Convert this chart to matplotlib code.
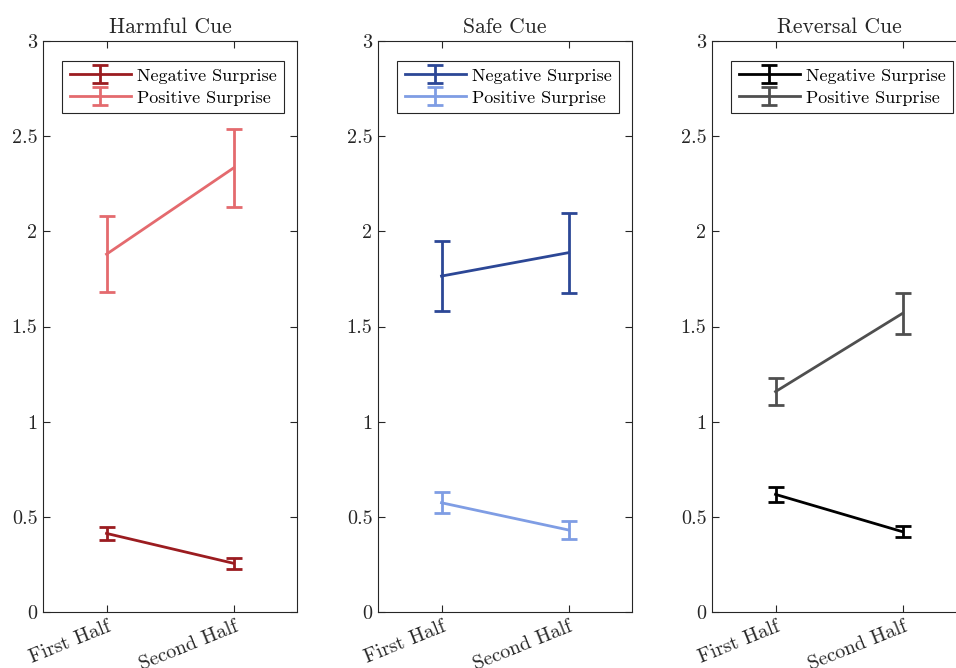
import matplotlib
import matplotlib.pyplot as plt
import numpy as np

matplotlib.use('Agg')
plt.rcParams['font.family'] = ['cmr10', 'DejaVu Serif']
plt.rcParams['mathtext.fontset'] = 'cm'
plt.rcParams['axes.formatter.use_mathtext'] = True

halves = ['First Half', 'Second Half']
titles = ['Harmful Cue', 'Safe Cue', 'Reversal Cue']
series_names = ['Negative Surprise', 'Positive Surprise']

# mean and error (half-width) for each cue, per half
harmful_neg = [0.413, 0.256]
harmful_neg_err = [0.035, 0.028]
harmful_pos = [1.880, 2.333]
harmful_pos_err = [0.200, 0.205]

safe_neg = [1.765, 1.888]
safe_neg_err = [0.185, 0.211]
safe_pos = [0.574, 0.431]
safe_pos_err = [0.056, 0.048]

reversal_neg = [0.618, 0.422]
reversal_neg_err = [0.040, 0.028]
reversal_pos = [1.158, 1.569]
reversal_pos_err = [0.072, 0.107]

colors = [('#9b1c20', '#e46a6e'), ('#2c4796', '#7f9de4'), ('#000000', '#4f4f4f')]

panels = [
    ((harmful_neg, harmful_neg_err), (harmful_pos, harmful_pos_err)),
    ((safe_neg, safe_neg_err), (safe_pos, safe_pos_err)),
    ((reversal_neg, reversal_neg_err), (reversal_pos, reversal_pos_err)),
]

fig = plt.figure(figsize=(9.56, 6.68), dpi=100)
lefts = [0.045, 0.3954, 0.7448]
x = np.arange(1, len(halves) + 1)

for k in range(3):
    ax = fig.add_axes([lefts[k], 0.0838, 0.2657, 0.8548])
    for (vals, err), name, c in zip(panels[k], series_names, colors[k]):
        ax.errorbar(x, vals, yerr=err, color=c, lw=2, capsize=6, capthick=2,
                    label=name)
    ax.set_xlim(0.5, 2.5)
    ax.set_ylim(0, 3)
    ax.set_xticks(x)
    ax.set_xticklabels(halves, rotation=22, ha='right', rotation_mode='anchor',
                       fontsize=14.5)
    ax.set_yticks([0, 0.5, 1, 1.5, 2, 2.5, 3])
    ax.set_yticklabels(['0', '0.5', '1', '1.5', '2', '2.5', '3'], fontsize=14.5)
    ax.tick_params(direction='in', top=True, right=True, length=5,
                   color='#262626', labelcolor='#262626', pad=4)
    for s in ax.spines.values():
        s.set_color('#262626')
        s.set_linewidth(0.8)
    ax.set_title(titles[k], fontsize=15.5, color='#262626', pad=6)
    leg = ax.legend(loc='upper left', bbox_to_anchor=(0.055, 0.975), fontsize=13,
                    fancybox=False, edgecolor='#262626', framealpha=1,
                    handlelength=3.4, borderpad=0.4, labelspacing=0.35,
                    handletextpad=0.35, borderaxespad=0.3)
    leg.get_frame().set_linewidth(0.8)

fig.savefig('out.png', dpi=100)
